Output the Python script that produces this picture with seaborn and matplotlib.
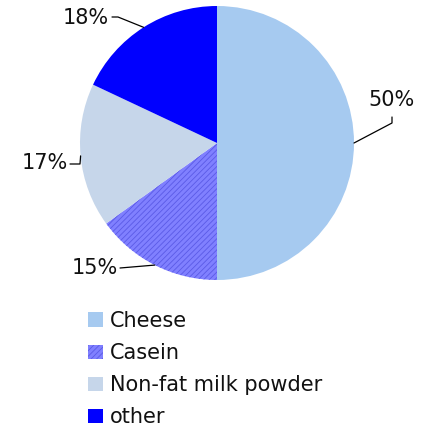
import numpy as np
import matplotlib
matplotlib.use("Agg")
import matplotlib.pyplot as plt
import seaborn as sns

categories = ["Cheese", "Casein", "Non-fat milk powder", "other"]
shares = [50, 15, 17, 18]
colors = ["#A6CAF0", "#8080FF", "#C6D6EA", "#0000FF"]
hatches = [None, "//////", None, None]

sns.set_theme(style="white")
plt.rcParams["font.family"] = ["DejaVu Sans"]
plt.rcParams["hatch.linewidth"] = 0.6
plt.rcParams["hatch.color"] = "#5A5AE6"

W, H = 433, 428
fig = plt.figure(figsize=(W / 100, H / 100), dpi=100)
ax = fig.add_axes([0, 0, 1, 1])

cx, cy, r = 217, H - 143, 137
wedges, _ = ax.pie(shares, colors=colors, startangle=90, counterclock=False,
                   center=(cx, cy), radius=r, frame=True,
                   wedgeprops=dict(linewidth=0))
for w, h in zip(wedges, hatches):
    if h:
        w.set_hatch(h)
        w.set_edgecolor("#5A5AE6")
        w.set_linewidth(0)
ax.set_xlim(0, W)
ax.set_ylim(0, H)
ax.set_aspect("equal")
ax.axis("off")

label_specs = [
    dict(tx=391, ty=H - 100, ha="center", path=[(392, H - 123), (392, H - 117)]),
    dict(tx=118, ty=H - 268, ha="right", path=[(120, H - 268)]),
    dict(tx=68, ty=H - 163, ha="right", path=[(80, H - 164), (70, H - 164)]),
    dict(tx=109, ty=H - 18, ha="right", path=[(118, H - 17), (112, H - 17)]),
]
for w, s, spec in zip(wedges, shares, label_specs):
    ang = np.deg2rad((w.theta1 + w.theta2) / 2)
    ex, ey = cx + r * np.cos(ang), cy + r * np.sin(ang)
    pts = [(ex, ey)] + spec["path"]
    ax.plot([p[0] for p in pts], [p[1] for p in pts], color="black", lw=0.9)
    ax.text(spec["tx"], spec["ty"], f"{s}%", ha=spec["ha"], va="center",
            fontsize=15, color="#111111")

leg = ax.legend(wedges, categories, loc="upper left",
                bbox_to_anchor=(88 / W, 1 - 311 / H), bbox_transform=fig.transFigure,
                frameon=False, fontsize=15, handlelength=0.7, handleheight=0.7,
                handletextpad=0.35, labelspacing=0.58, borderpad=0, borderaxespad=0)
for t in leg.get_texts():
    t.set_color("#111111")

fig.savefig("out.png", dpi=100)
